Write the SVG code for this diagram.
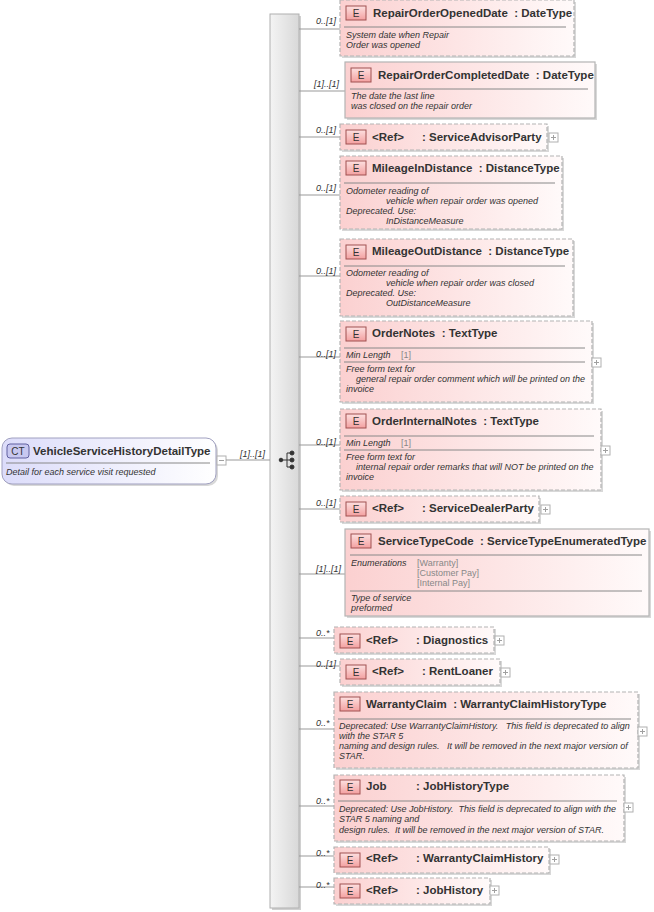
<svg xmlns="http://www.w3.org/2000/svg" width="654" height="912" viewBox="0 0 654 912">
<defs>
<linearGradient id="eg" x1="0" y1="0" x2="1" y2="0"><stop offset="0" stop-color="#fbd0d0"/><stop offset="1" stop-color="#fffafa"/></linearGradient>
<linearGradient id="cg" x1="0" y1="0" x2="1" y2="0"><stop offset="0" stop-color="#dcdcfa"/><stop offset="1" stop-color="#ffffff"/></linearGradient>
<linearGradient id="bg" x1="0" y1="0" x2="1" y2="0"><stop offset="0" stop-color="#f4f4f4"/><stop offset="1" stop-color="#d8d8d8"/></linearGradient>
<linearGradient id="badge" x1="0" y1="0" x2="0" y2="1"><stop offset="0" stop-color="#fde0e0"/><stop offset="1" stop-color="#f3a0a0"/></linearGradient>
<g id="E"><rect x="0" y="0" width="20" height="14" fill="url(#badge)" stroke="#a05050" stroke-width="1"/><text x="10" y="11" class="bt">E</text></g>
<g id="plus"><rect x="0" y="0" width="9" height="9" fill="#fff" stroke="#b0b0b0"/><path d="M2 4.5h5M4.5 2v5" stroke="#a0a0a0"/></g>
</defs>
<style>
.nd{fill:url(#eg);stroke:#b4b4b4;stroke-width:1.2;stroke-dasharray:4 2}
.ns{fill:url(#eg);stroke:#b4b4b4;stroke-width:1.2}
.sh{fill:#d8d8d8}
.t{font-family:"Liberation Sans",Arial,sans-serif;font-size:11.5px;font-weight:bold;fill:#333;white-space:pre}
.d{font-family:"Liberation Sans",Arial,sans-serif;font-size:9px;font-style:italic;fill:#333;white-space:pre}
.v{font-family:"Liberation Sans",Arial,sans-serif;font-size:9px;fill:#888}
.m{font-family:"Liberation Sans",Arial,sans-serif;font-size:9px;font-style:italic;fill:#333}
.bt{font-family:"Liberation Sans",Arial,sans-serif;font-size:10px;fill:#333;text-anchor:middle}
.ln{stroke:#888;stroke-width:1}
.cn{stroke:#999;stroke-width:1;fill:none}
</style>

<g id="sequence">
<rect x="272" y="16" width="29" height="894" fill="#d0d0d0"/>
<rect x="270" y="14" width="29" height="894" fill="url(#bg)" stroke="#b0b0b0"/>
<g stroke="#333" fill="#333">
<path d="M281 460h6M287 453v14M287 453h4M287 460h4M287 467h4" fill="none"/>
<circle cx="281" cy="460" r="1.8"/><circle cx="292" cy="453" r="2"/><circle cx="292" cy="460" r="2"/><circle cx="292" cy="467" r="2"/>
</g>
</g>

<g id="root">
<rect x="4" y="440" width="214" height="46" rx="10" class="sh"/>
<rect x="2" y="438" width="214" height="46" rx="10" fill="url(#cg)" stroke="#a0a0c0"/>
<rect x="7" y="444" width="22" height="14" rx="3" fill="#c8c8f0" stroke="#6060a0"/>
<text x="18" y="455" class="bt">CT</text>
<text x="33" y="455" class="t">VehicleServiceHistoryDetailType</text>
<line x1="6" y1="463" x2="210" y2="463" class="ln"/>
<text x="6" y="475" class="d">Detail for each service visit requested</text>
<rect x="217" y="456" width="9" height="9" fill="#fff" stroke="#b0b0b0"/><path d="M219 460.5h5" stroke="#a0a0a0"/>
</g>

<g id="connectors">
<path class="cn" d="M226 460H270"/>
<text x="240" y="457" class="m">[1]..[1]</text>
<path class="cn" d="M299 29H340M299 91H345M299 137H340M299 195H340M299 276H340M299 357H340M299 445H340M299 509H340M299 574H345M299 638H334M299 666H340M299 729H334M299 806H334M299 856H334M299 887H334"/>
<g class="m">
<text x="316" y="24">0..[1]</text><text x="314" y="87">[1]..[1]</text><text x="316" y="133">0..[1]</text>
<text x="316" y="191">0..[1]</text><text x="316" y="274">0..[1]</text><text x="316" y="357">0..[1]</text>
<text x="316" y="445">0..[1]</text><text x="316" y="506">0..[1]</text><text x="316" y="572">[1]..[1]</text>
<text x="316" y="636">0..*</text><text x="316" y="667">0..[1]</text><text x="316" y="726">0..*</text>
<text x="316" y="804">0..*</text><text x="316" y="856">0..*</text><text x="316" y="888">0..*</text>
</g>
</g>

<g id="n1"><rect x="342" y="2" width="234" height="56" class="sh"/><rect x="340" y="0" width="234" height="56" class="nd"/>
<use href="#E" x="346" y="6"/><text x="373" y="17" class="t">RepairOrderOpenedDate  : DateType</text>
<line x1="344" y1="27" x2="566" y2="27" class="ln"/>
<text x="346" y="38" class="d">System date when Repair</text><text x="346" y="48" class="d">Order was opened</text></g>

<g id="n2"><rect x="347" y="64" width="250" height="56" class="sh"/><rect x="345" y="62" width="250" height="56" class="ns"/>
<use href="#E" x="351" y="68"/><text x="378" y="79" class="t">RepairOrderCompletedDate  : DateType</text>
<line x1="350" y1="89" x2="588" y2="89" class="ln"/>
<text x="351" y="99" class="d">The date the last line</text><text x="351" y="109" class="d">was closed on the repair order</text></g>

<g id="n3"><rect x="342" y="126" width="207" height="26" class="sh"/><rect x="340" y="124" width="207" height="26" class="nd"/>
<use href="#E" x="346" y="130"/><text x="372" y="141" class="t">&lt;Ref&gt;</text><text x="422" y="141" class="t">: ServiceAdvisorParty</text>
<use href="#plus" x="549" y="133"/></g>

<g id="n4"><rect x="342" y="158" width="222" height="73" class="sh"/><rect x="340" y="156" width="222" height="73" class="nd"/>
<use href="#E" x="346" y="161"/><text x="372" y="172" class="t">MileageInDistance  : DistanceType</text>
<line x1="344" y1="183" x2="555" y2="183" class="ln"/>
<text x="346" y="194" class="d">Odometer reading of</text><text x="386" y="204" class="d">vehicle when repair order was opened</text>
<text x="346" y="214" class="d">Deprecated. Use:</text><text x="386" y="224" class="d">InDistanceMeasure</text></g>

<g id="n5"><rect x="342" y="241" width="233" height="77" class="sh"/><rect x="340" y="239" width="233" height="77" class="nd"/>
<use href="#E" x="346" y="245"/><text x="372" y="255" class="t">MileageOutDistance  : DistanceType</text>
<line x1="344" y1="266" x2="565" y2="266" class="ln"/>
<text x="346" y="276" class="d">Odometer reading of</text><text x="386" y="286" class="d">vehicle when repair order was closed</text>
<text x="346" y="296" class="d">Deprecated. Use:</text><text x="386" y="306" class="d">OutDistanceMeasure</text></g>

<g id="n6"><rect x="342" y="323" width="252" height="81" class="sh"/><rect x="340" y="321" width="252" height="81" class="nd"/>
<use href="#E" x="346" y="327"/><text x="372" y="337" class="t">OrderNotes  : TextType</text>
<line x1="344" y1="348" x2="585" y2="348" class="ln"/>
<text x="346" y="358" class="d">Min Length</text><text x="401" y="358" class="v">[1]</text>
<line x1="344" y1="362" x2="585" y2="362" class="ln"/>
<text x="346" y="372" class="d">Free form text for</text><text x="356" y="382" class="d">general repair order comment which will be printed on the</text>
<text x="346" y="392" class="d">invoice</text>
<use href="#plus" x="592" y="358"/></g>

<g id="n7"><rect x="342" y="411" width="261" height="81" class="sh"/><rect x="340" y="409" width="261" height="81" class="nd"/>
<use href="#E" x="346" y="414"/><text x="372" y="425" class="t">OrderInternalNotes  : TextType</text>
<line x1="344" y1="436" x2="594" y2="436" class="ln"/>
<text x="346" y="446" class="d">Min Length</text><text x="401" y="446" class="v">[1]</text>
<line x1="344" y1="450" x2="594" y2="450" class="ln"/>
<text x="346" y="460" class="d">Free form text for</text><text x="356" y="470" class="d">internal repair order remarks that will NOT be printed on the</text>
<text x="346" y="480" class="d">invoice</text>
<use href="#plus" x="601" y="446"/></g>

<g id="n8"><rect x="342" y="498" width="199" height="26" class="sh"/><rect x="340" y="496" width="199" height="26" class="nd"/>
<use href="#E" x="346" y="502"/><text x="372" y="512" class="t">&lt;Ref&gt;</text><text x="422" y="512" class="t">: ServiceDealerParty</text>
<use href="#plus" x="541" y="505"/></g>

<g id="n9"><rect x="347" y="531" width="304" height="87" class="sh"/><rect x="345" y="529" width="304" height="87" class="ns"/>
<use href="#E" x="351" y="534"/><text x="378" y="545" class="t">ServiceTypeCode  : ServiceTypeEnumeratedType</text>
<line x1="350" y1="555" x2="642" y2="555" class="ln"/>
<text x="351" y="566" class="d">Enumerations</text>
<text x="417" y="566" class="v">[Warranty]</text><text x="417" y="576" class="v">[Customer Pay]</text><text x="417" y="586" class="v">[Internal Pay]</text>
<line x1="350" y1="591" x2="642" y2="591" class="ln"/>
<text x="351" y="601" class="d">Type of service</text><text x="351" y="611" class="d">preformed</text></g>

<g id="n10"><rect x="336" y="629" width="160" height="26" class="sh"/><rect x="334" y="627" width="160" height="26" class="nd"/>
<use href="#E" x="340" y="634"/><text x="366" y="644" class="t">&lt;Ref&gt;</text><text x="416" y="644" class="t">: Diagnostics</text>
<use href="#plus" x="495" y="636"/></g>

<g id="n11"><rect x="342" y="661" width="160" height="26" class="sh"/><rect x="340" y="659" width="160" height="26" class="nd"/>
<use href="#E" x="346" y="665"/><text x="372" y="675" class="t">&lt;Ref&gt;</text><text x="422" y="675" class="t">: RentLoaner</text>
<use href="#plus" x="501" y="668"/></g>

<g id="n12"><rect x="336" y="694" width="304" height="76" class="sh"/><rect x="334" y="692" width="304" height="76" class="nd"/>
<use href="#E" x="340" y="697"/><text x="366" y="708" class="t">WarrantyClaim  : WarrantyClaimHistoryType</text>
<line x1="338" y1="719" x2="631" y2="719" class="ln"/>
<text x="339" y="729" class="d">Deprecated: Use WarrantyClaimHistory.   This field is deprecated to align</text>
<text x="339" y="739" class="d">with the STAR 5</text>
<text x="339" y="749" class="d">naming and design rules.   It will be removed in the next major version of</text>
<text x="339" y="759" class="d">STAR.</text>
<use href="#plus" x="638" y="727"/></g>

<g id="n13"><rect x="336" y="777" width="290" height="66" class="sh"/><rect x="334" y="775" width="290" height="66" class="nd"/>
<use href="#E" x="340" y="780"/><text x="366" y="790" class="t">Job</text><text x="416" y="790" class="t">: JobHistoryType</text>
<line x1="338" y1="801" x2="617" y2="801" class="ln"/>
<text x="339" y="812" class="d">Deprecated: Use JobHistory.  This field is deprecated to align with the</text>
<text x="339" y="822" class="d">STAR 5 naming and</text>
<text x="339" y="833" class="d">design rules.  It will be removed in the next major version of STAR.</text>
<use href="#plus" x="624" y="803"/></g>

<g id="n14"><rect x="336" y="849" width="215" height="26" class="sh"/><rect x="334" y="847" width="215" height="26" class="nd"/>
<use href="#E" x="340" y="853"/><text x="366" y="862" class="t">&lt;Ref&gt;</text><text x="416" y="862" class="t">: WarrantyClaimHistory</text>
<use href="#plus" x="550" y="855"/></g>

<g id="n15"><rect x="336" y="880" width="156" height="26" class="sh"/><rect x="334" y="878" width="156" height="26" class="nd"/>
<use href="#E" x="340" y="884"/><text x="366" y="894" class="t">&lt;Ref&gt;</text><text x="416" y="894" class="t">: JobHistory</text>
<use href="#plus" x="490" y="886"/></g>
</svg>
